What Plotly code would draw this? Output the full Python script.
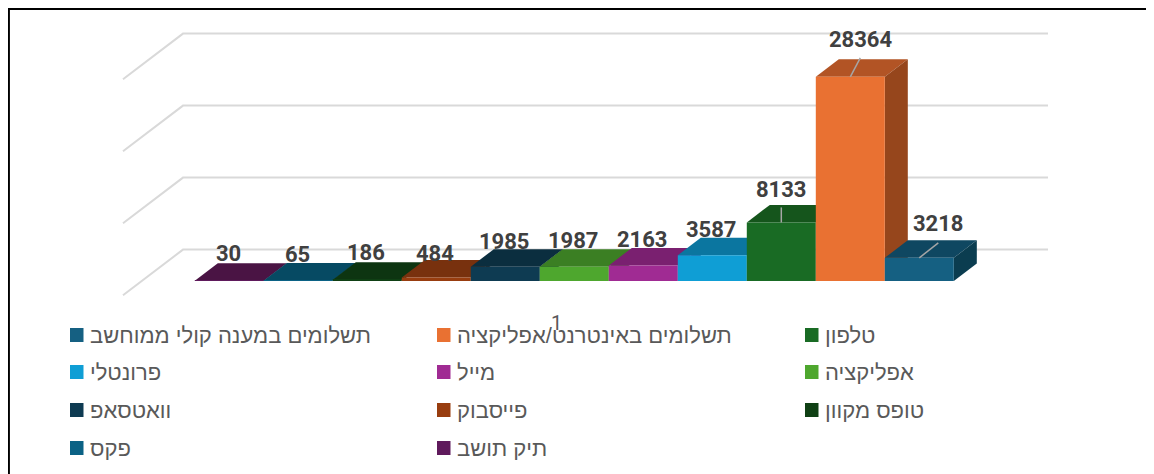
import plotly.graph_objects as go

# --- data ---
series_names = ["תיק תושב", "פקס", "טופס מקוון", "פייסבוק", "וואטסאפ", "אפליקציה", "מייל", "פרונטלי", "טלפון",
                "תשלומים באינטרנט/אפליקציה", "תשלומים במענה קולי ממוחשב"]
series_values = [30, 65, 186, 484, 1985, 1987, 2163, 3587, 8133, 28364, 3218]
category_label = "1"
grid_values = [0, 10000, 20000, 30000]

# --- styles ---
front_colors = ["#5F1A5C", "#0B6285", "#0F4014", "#983D0F", "#0E3B52", "#4EA72E", "#A02B93", "#0F9ED5", "#196B24", "#E97132", "#156082"]
top_colors = ["#4A1444", "#064A63", "#0D3511", "#78310E", "#0B2E3F", "#3B7F23", "#7A2070", "#0B76A0", "#15551C", "#B25425", "#0F4761"]
side_colors = ["#3D1139", "#053D52", "#0A2A0D", "#632809", "#092634", "#30681C", "#64195C", "#096386", "#104516", "#96461C", "#0B3D50"]
legend_order = [10, 9, 8, 7, 6, 5, 4, 3, 2, 1, 0]

W, H = 1154, 474
PAGE = 8               # default body margin
PX_X = 69.0            # px per bar
PX_Y = 7.2 / 1000      # px per value unit
X0_PX = 229.3          # bar 0 centre
Y0_PX = 281.0          # baseline
DX = 23 / PX_X
DY = 17.5 / PX_Y


def data_x(px):
    return (px - X0_PX) / PX_X


def data_y(py):
    return (Y0_PX - py) / PX_Y


fig = go.Figure()

# floor / wall grid
wall_lift = data_y(249.6)
for g in grid_values:
    fig.add_trace(go.Scatter(
        x=[data_x(123), data_x(183), data_x(1048)],
        y=[g + data_y(295.3), g + wall_lift, g + wall_lift],
        mode="lines", line=dict(color="#D9D9D9", width=2),
        hoverinfo="skip", showlegend=False, zorder=0))

for i, (name, v) in enumerate(zip(series_names, series_values)):
    fig.add_trace(go.Scatter(
        x=[i - .5, i + .5, i + .5 + DX, i - .5 + DX, i - .5],
        y=[v, v, v + DY, v + DY, v],
        mode="lines", fill="toself", fillcolor=top_colors[i], line=dict(width=0, color=top_colors[i]),
        hoverinfo="skip", showlegend=False, zorder=10 + 3 * i))
    fig.add_trace(go.Scatter(
        x=[i + .5, i + .5, i + .5 + DX, i + .5 + DX, i + .5],
        y=[0, v, v + DY, DY, 0],
        mode="lines", fill="toself", fillcolor=side_colors[i], line=dict(width=0, color=side_colors[i]),
        hoverinfo="skip", showlegend=False, zorder=11 + 3 * i))
    fig.add_trace(go.Bar(
        x=[i], y=[v], width=1, name=name, marker=dict(color=front_colors[i], line=dict(width=0)),
        showlegend=False, zorder=12 + 3 * i))

# label placement (pixels from the top-centre of each bar's front face)
label_dx = [-1, -1, -1, -1, -1, -1, -1, -1, 0, 10, 19]
label_dy = [27, 26.5, 26.7, 24.5, 25.7, 25.7, 26, 26, 33, 37, 34]
# leader lines
for i, dx_px, dy_px in [(8, 0, 15), (9, 10, 19), (10, 19, 15)]:
    fig.add_trace(go.Scatter(
        x=[i, i + dx_px / PX_X], y=[series_values[i], series_values[i] + dy_px / PX_Y],
        mode="lines", line=dict(color="#A6A6A6", width=1.5), hoverinfo="skip", showlegend=False, zorder=60))

annotations = []
for i, v in enumerate(series_values):
    annotations.append(dict(x=i, y=v, xref="x", yref="y", text=f"<b>{v}</b>", showarrow=False,
                            xshift=label_dx[i], yshift=label_dy[i], xanchor="center", yanchor="middle",
                            font=dict(family="Roboto, Liberation Sans, sans-serif", size=22, color="#404040")))
annotations.append(dict(x=(556 - PAGE) / (W - PAGE), y=1 - (323 - PAGE) / (H - PAGE), xref="paper", yref="paper",
                        text=category_label, xanchor="center", yanchor="middle", showarrow=False,
                        font=dict(family="Roboto, Liberation Sans", size=20, color="#595959")))

# legend (3 columns, swatch then text)
col_x = [70, 437, 805]
row_y = [335, 372, 410, 448]
shapes = []
for k, idx in enumerate(legend_order):
    r, c = k // 3, k % 3
    x, y = col_x[c], row_y[r]
    shapes.append(dict(type="rect", xref="paper", yref="paper",
                       x0=(x - PAGE) / (W - PAGE), x1=(x + 13.5 - PAGE) / (W - PAGE),
                       y0=1 - (y + 7 - PAGE) / (H - PAGE), y1=1 - (y - 7 - PAGE) / (H - PAGE),
                       fillcolor=front_colors[idx], line=dict(width=0)))
    annotations.append(dict(x=(x + 18 - PAGE) / (W - PAGE), y=1 - (y - PAGE) / (H - PAGE),
                            xref="paper", yref="paper", text=series_names[idx], showarrow=False,
                            xanchor="left", yanchor="middle",
                            font=dict(family="Liberation Sans, sans-serif", size=22, color="#595959")))

# frame
shapes.append(dict(type="line", xref="paper", yref="paper", x0=0.0008, x1=0.0008, y0=0, y1=1, line=dict(color="#000", width=2)))
shapes.append(dict(type="line", xref="paper", yref="paper", x0=0, x1=1, y0=0.998, y1=0.998, line=dict(color="#000", width=2)))

fig.update_layout(
    width=W - PAGE, height=H - PAGE, margin=dict(l=0, r=0, t=0, b=0), autosize=False,
    paper_bgcolor="white", plot_bgcolor="white", barmode="overlay", showlegend=False,
    annotations=annotations, shapes=shapes,
    xaxis=dict(range=[data_x(PAGE), data_x(W)], visible=False, fixedrange=True),
    yaxis=dict(range=[data_y(H), data_y(PAGE)], visible=False, fixedrange=True),
)
fig.write_html("out.html")
